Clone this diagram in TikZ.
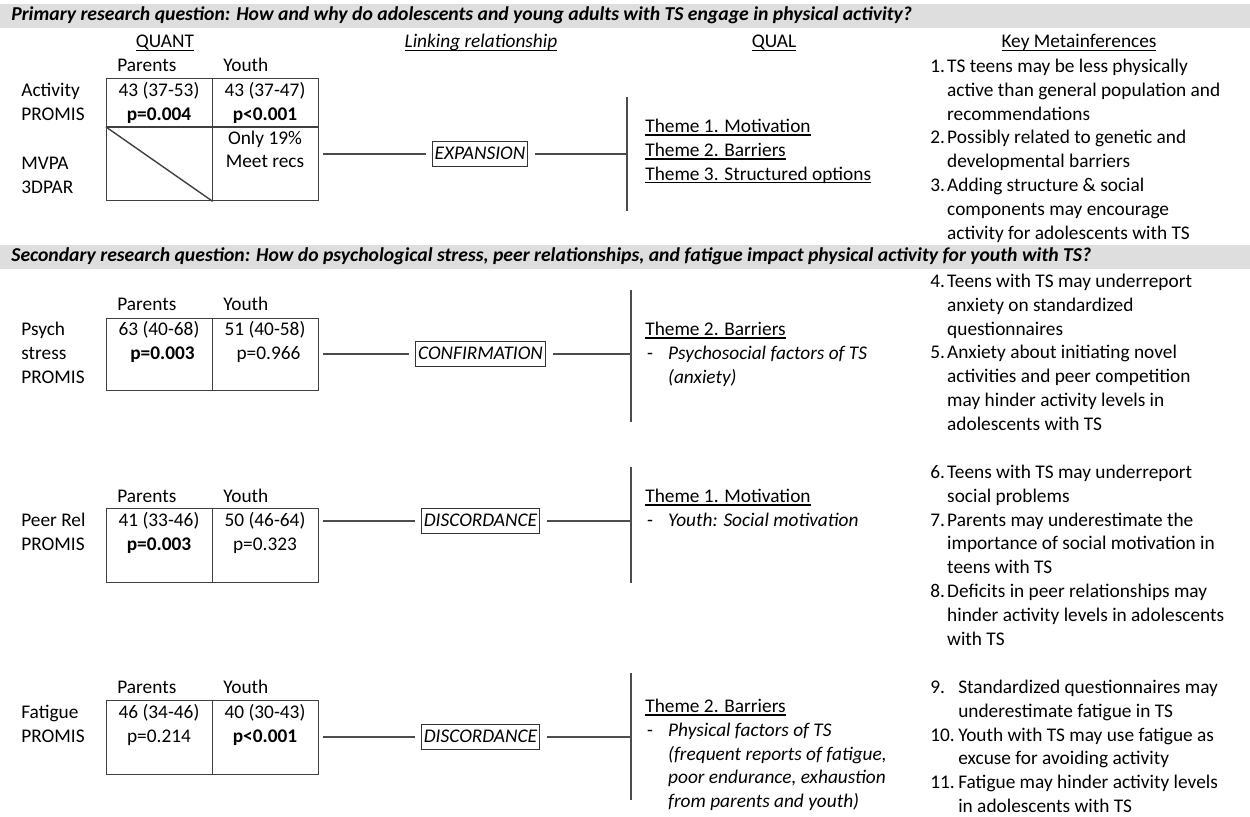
\documentclass[tikz,border=0pt]{standalone}
\usepackage{fontspec}
\setmainfont{Carlito}
\definecolor{hdr}{HTML}{DEDEDE}
\newcommand\myul[1]{\setbox0=\hbox{#1}\rlap{\vrule height -1.2pt depth 1.9pt width \wd0}\box0}
\newcommand\mnum[1]{\makebox[9.6pt][l]{#1}}
\newcommand\mind{\hspace*{9.6pt}}
\newcommand\mnumw[1]{\makebox[15.9pt][l]{#1}}
\newcommand\mindw{\hspace*{15.9pt}}
\newcommand\dashitem[1]{\makebox[13pt][l]{\hspace{1pt}-}\textit{#1}}
\newcommand\dind{\hspace*{13pt}}
\tikzset{
  txt/.style={inner sep=0pt, font=\fontsize{11}{13.6}\selectfont},
  lbl/.style={txt, anchor=base west},
  ctr/.style={txt, anchor=base},
  ml/.style={txt, anchor=north west, align=left},
  cellt/.style={txt, anchor=north, align=center},
  tbl/.style={draw=black!75, line width=0.8pt, inner sep=0pt, anchor=north west, minimum width=4.24cm},
  tline/.style={draw=black!75, line width=0.8pt},
  linkbox/.style={draw=black!80, line width=0.6pt, inner xsep=1.5pt, inner ysep=1pt, text height=9.2pt, text depth=2.6pt, font=\fontsize{11}{13.6}\selectfont\itshape},
  conn/.style={draw=black!70, line width=0.7pt},
  vbar/.style={draw=black!70, line width=0.8pt},
  hdrtxt/.style={lbl, font=\fontsize{11.2}{13.6}\selectfont\bfseries\itshape}
}
\begin{document}
\begin{tikzpicture}[x=0.02cm, y=-0.02cm]
\useasboundingbox (0,0) rectangle (1250,817);
% header bands
\fill[hdr] (0,4) rectangle (1250,28);
\fill[hdr] (0,245) rectangle (1250,269);
\node[hdrtxt] (hq1) at (11,21) {Primary research question: How and why do adolescents and young adults with TS engage in physical activity?};
\node[hdrtxt] (hq2) at (11,262) {Secondary research question: How do psychological stress, peer relationships, and fatigue impact physical activity for youth with TS?};
% column headers
\node[ctr] (hQ) at (165,48) {\myul{QUANT}};
\node[ctr] (hL) at (481,48) {\myul{\textit{Linking relationship}}};
\node[ctr] (hQL) at (774,48) {\myul{QUAL}};
\node[ctr] (hK) at (1079,48) {\myul{Key Metainferences}};

% ===== Section 1 =====
\node[lbl] (p1) at (117,72) {Parents};
\node[lbl] (y1) at (223,72) {Youth};
\node[tbl, minimum height=2.44cm] (t1) at (106,78) {};
\draw[tline] (t1.north) -- (t1.south);
\coordinate (t1m) at (106,127);
\draw[tline] (t1m) -- (t1m -| t1.east);
\draw[tline] (t1m) -- (t1.south);
\node[ml] (a1) at (21,79.2) {\strut Activity\\PROMIS};
\node[ml] (a2) at (21,152.2) {\strut MVPA\\3DPAR};
\node[cellt] (c1p) at (159,79.2) {\strut 43 (37-53)\\\textbf{p=0.004}};
\node[cellt] (c1y) at (265,79.2) {\strut 43 (37-47)\\\textbf{p<0.001}\\Only 19\%\\Meet recs};
\node[linkbox] (k1) at (480,154) {EXPANSION};
\coordinate (b1a) at (627,97);
\coordinate (b1b) at (627,211);
\draw[vbar] (b1a) -- (b1b);
\draw[conn, shorten <=0.08cm, shorten >=0.12cm] (t1.east |- k1) -- (k1.west);
\draw[conn, shorten <=0.14cm] (k1.east) -- (b1a |- k1);
\node[ml] (q1) at (645,115.2) {\strut\myul{Theme 1. Motivation}\\\myul{Theme 2. Barriers}\\\myul{Theme 3. Structured options}};
\node[ml] (m1) at (930,55.2) {\strut\mnum{1.}TS teens may be less physically\\\mind active than general population and\\\mind recommendations\\\mnum{2.}Possibly related to genetic and\\\mind developmental barriers\\\mnum{3.}Adding structure \& social\\\mind components may encourage\\\mind activity for adolescents with TS};

% ===== Section 2: Psych stress =====
\node[lbl] (p2) at (117,311) {Parents};
\node[lbl] (y2) at (223,311) {Youth};
\node[tbl, minimum height=1.44cm] (t2) at (106,318) {};
\draw[tline] (t2.north) -- (t2.south);
\node[ml] (a3) at (21,318.2) {\strut Psych\\stress\\PROMIS};
\node[cellt] (c2p) at (159,318.2) {\strut 63 (40-68)\\\hspace*{4pt}\textbf{p=0.003}};
\node[cellt] (c2y) at (265,318.2) {\strut 51 (40-58)\\\hspace*{4pt}p=0.966};
\node[linkbox] (k2) at (480.5,354) {CONFIRMATION};
\coordinate (b2a) at (631,290);
\coordinate (b2b) at (631,422);
\draw[vbar] (b2a) -- (b2b);
\draw[conn, shorten <=0.08cm, shorten >=0.12cm] (t2.east |- k2) -- (k2.west);
\draw[conn, shorten <=0.14cm] (k2.east) -- (b2a |- k2);
\node[ml] (q2) at (645,318.2) {\strut\myul{Theme 2. Barriers}\\\dashitem{Psychosocial factors of TS}\\\dind\textit{(anxiety)}};
\node[ml] (m2) at (930,270.2) {\strut\mnum{4.}Teens with TS may underreport\\\mind anxiety on standardized\\\mind questionnaires\\\mnum{5.}Anxiety about initiating novel\\\mind activities and peer competition\\\mind may hinder activity levels in\\\mind adolescents with TS};

% ===== Section 3: Peer relationships =====
\node[lbl] (p3) at (117,502) {Parents};
\node[lbl] (y3) at (223,502) {Youth};
\node[tbl, minimum height=1.48cm] (t3) at (106,508) {};
\draw[tline] (t3.north) -- (t3.south);
\node[ml] (a4) at (21,509.2) {\strut Peer Rel\\PROMIS};
\node[cellt] (c3p) at (159,509.2) {\strut 41 (33-46)\\\textbf{p=0.003}};
\node[cellt] (c3y) at (265,509.2) {\strut 50 (46-64)\\p=0.323};
\node[linkbox] (k3) at (480.5,521) {DISCORDANCE};
\coordinate (b3a) at (631,467);
\coordinate (b3b) at (631,583);
\draw[vbar] (b3a) -- (b3b);
\draw[conn, shorten <=0.08cm, shorten >=0.12cm] (t3.east |- k3) -- (k3.west);
\draw[conn, shorten <=0.14cm] (k3.east) -- (b3a |- k3);
\node[ml] (q3) at (645,485.2) {\strut\myul{Theme 1. Motivation}\\\dashitem{Youth: Social motivation}};
\node[ml] (m3) at (930,461.2) {\strut\mnum{6.}Teens with TS may underreport\\\mind social problems\\\mnum{7.}Parents may underestimate the\\\mind importance of social motivation in\\\mind teens with TS\\\mnum{8.}Deficits in peer relationships may\\\mind hinder activity levels in adolescents\\\mind with TS};

% ===== Section 4: Fatigue =====
\node[lbl] (p4) at (117,693) {Parents};
\node[lbl] (y4) at (223,693) {Youth};
\node[tbl, minimum height=1.48cm] (t4) at (106,700) {};
\draw[tline] (t4.north) -- (t4.south);
\node[ml] (a5) at (21,701.2) {\strut Fatigue\\PROMIS};
\node[cellt] (c4p) at (159,701.2) {\strut 46 (34-46)\\p=0.214};
\node[cellt] (c4y) at (265,701.2) {\strut 40 (30-43)\\\textbf{p<0.001}};
\node[linkbox] (k4) at (480.5,737) {DISCORDANCE};
\coordinate (b4a) at (631,673);
\coordinate (b4b) at (631,800);
\draw[vbar] (b4a) -- (b4b);
\draw[conn, shorten <=0.08cm, shorten >=0.12cm] (t4.east |- k4) -- (k4.west);
\draw[conn, shorten <=0.14cm] (k4.east) -- (b4a |- k4);
\node[ml] (q4) at (645,695.2) {\strut\myul{Theme 2. Barriers}\\\dashitem{Physical factors of TS}\\\dind\textit{(frequent reports of fatigue,}\\\dind\textit{poor endurance, exhaustion}\\\dind\textit{from parents and youth)}};
\node[ml] (m4) at (930,676.2) {\strut\mnumw{9.}Standardized questionnaires may\\\mindw underestimate fatigue in TS\\\mnumw{10.}Youth with TS may use fatigue as\\\mindw excuse for avoiding activity\\\mnumw{11.}Fatigue may hinder activity levels\\\mindw in adolescents with TS};
\end{tikzpicture}
\end{document}
